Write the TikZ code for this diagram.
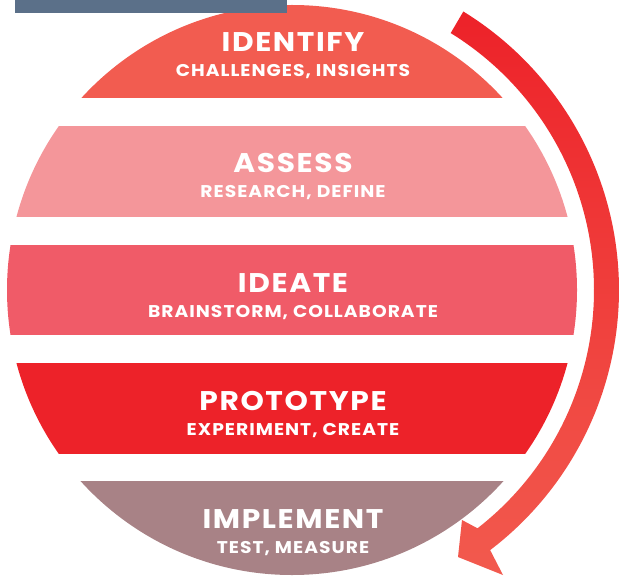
\documentclass[tikz,border=0pt]{standalone}
\usepackage{fontspec}
\setmainfont{Poppins}[FakeStretch=1.1, LetterSpace=6]
\usetikzlibrary{calc}
\definecolor{rectc}{HTML}{5B7089}
\definecolor{identc}{HTML}{F25C50}
\definecolor{assessc}{HTML}{F4969A}
\definecolor{ideatec}{HTML}{F05B68}
\definecolor{protoc}{HTML}{ED2229}
\definecolor{implc}{HTML}{A88286}
\definecolor{arrtop}{HTML}{ED2229}
\definecolor{arrbot}{HTML}{F25A4E}
\tikzset{
  title/.style={anchor=base, text=white, inner sep=0pt, font=\bfseries\fontsize{27}{27}\selectfont},
  subtitle/.style={anchor=base, text=white, inner sep=0pt, font=\bfseries\fontsize{17}{17}\selectfont},
}
\begin{document}
\begin{tikzpicture}[x=1pt,y=-1pt]
\useasboundingbox (0,0) rectangle (620,577);
\coordinate (c) at (292,290);
\begin{scope}
  \clip (c) circle[radius=285];
  \fill[identc] (0,0) rectangle (620,98);
  \fill[assessc] (0,126) rectangle (620,217);
  \fill[ideatec] (0,245) rectangle (620,335);
  \fill[protoc] (0,363) rectangle (620,454);
  \fill[implc] (0,481) rectangle (620,580);
\end{scope}
\fill[rectc] (15,0) rectangle (287,13);
% arrow
\coordinate (w2) at (503,575);
\coordinate (tip) at (458,557);
\coordinate (w1) at (462,520);
\shade[top color=arrtop, bottom color=arrbot]
  ($(c)+(-58.4:327)$) arc[start angle=-58.4, end angle=52.7, radius=327]
  -- (w2) -- (tip) -- (w1)
  -- ($(c)+(52.1:302)$) arc[start angle=52.1, end angle=-58.3, radius=302] -- cycle;
% texts
\node[title] (t1) at (293,52) {IDENTIFY};
\node[subtitle] (s1) at (293,77) {CHALLENGES, INSIGHTS};
\node[title] (t2) at (293,173) {ASSESS};
\node[subtitle] (s2) at (293,197) {RESEARCH, DEFINE};
\node[title] (t3) at (293,292) {IDEATE};
\node[subtitle] (s3) at (293,317) {BRAINSTORM, COLLABORATE};
\node[title] (t4) at (293,410) {PROTOTYPE};
\node[subtitle] (s4) at (293,435) {EXPERIMENT, CREATE};
\node[title] (t5) at (293,528) {IMPLEMENT};
\node[subtitle] (s5) at (293,553) {TEST, MEASURE};
\end{tikzpicture}
\end{document}
